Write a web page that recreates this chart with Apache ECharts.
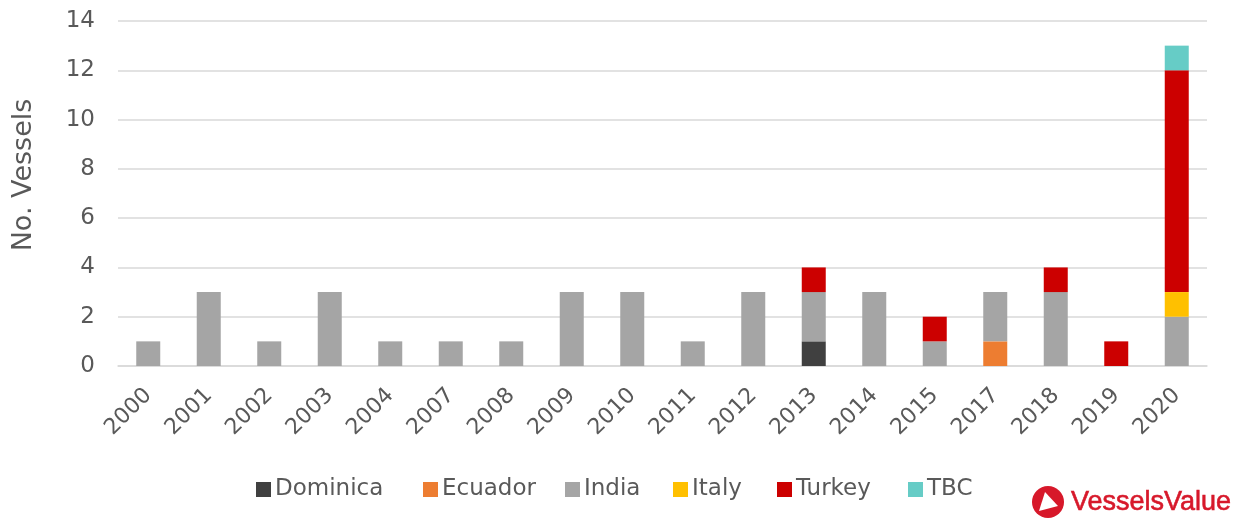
<!DOCTYPE html>
<html><head><meta charset="utf-8">
<script src="https://cdn.jsdelivr.net/npm/echarts@6/dist/echarts.min.js"></script>
<style>html,body{margin:0;padding:0;background:#fff}#c{width:1243px;height:520px}</style>
</head><body><div id="c"></div>
<script>
const categories = ['2000','2001','2002','2003','2004','2007','2008','2009','2010','2011','2012','2013','2014','2015','2017','2018','2019','2020'];
const dominica = [0,0,0,0,0,0,0,0,0,0,0,1,0,0,0,0,0,0];
const ecuador  = [0,0,0,0,0,0,0,0,0,0,0,0,0,0,1,0,0,0];
const india    = [1,3,1,3,1,1,1,3,3,1,3,2,3,1,2,3,0,2];
const italy    = [0,0,0,0,0,0,0,0,0,0,0,0,0,0,0,0,0,1];
const turkey   = [0,0,0,0,0,0,0,0,0,0,0,1,0,1,0,1,1,9];
const tbc      = [0,0,0,0,0,0,0,0,0,0,0,0,0,0,0,0,0,1];
const yTicks = [0,2,4,6,8,10,12,14];
const seriesNames = ['Dominica','Ecuador','India','Italy','Turkey','TBC'];

const FONT = 'DejaVu Sans';
const seriesData = [dominica, ecuador, india, italy, turkey, tbc];
const colors = ['#404040','#ED7D31','#A5A5A5','#FFC000','#CC0000','#66CCC6'];
const legendLeft = [256, 423, 565, 673, 777, 908];

const chart = echarts.init(document.getElementById('c'), null, {renderer:'canvas'});
chart.setOption({
  animation: false,
  textStyle: {fontFamily: FONT},
  grid: {left: 118, right: 36, top: 21, bottom: 154},
  legend: seriesNames.map((n, i) => ({
    data: [n], left: legendLeft[i], top: 478,
    itemWidth: 15, itemHeight: 15, itemGap: 0, icon: 'rect', padding: 0,
    textStyle: {fontFamily: FONT, fontSize: 23, color: '#595959', padding: [0,0,0,-1]}
  })),
  xAxis: {
    type: 'category', data: categories,
    axisLine: {lineStyle: {color: '#D9D9D9', width: 1.5}},
    axisTick: {show: false},
    axisLabel: {rotate: 45, fontFamily: FONT, fontSize: 22, color: '#595959', margin: 26, interval: 0}
  },
  yAxis: {
    type: 'value', min: 0, max: 14, interval: 2,
    axisLabel: {fontFamily: FONT, fontSize: 23, color: '#595959', margin: 23,
      formatter: v => yTicks.includes(v) ? String(v) : ''},
    splitLine: {lineStyle: {color: '#D9D9D9', width: 1.5}},
    axisLine: {show: false}, axisTick: {show: false}
  },
  series: seriesNames.map((name, i) => ({
    name, type: 'bar', stack: 'total', data: seriesData[i],
    barWidth: 24,
    itemStyle: {color: colors[i]},
    emphasis: {disabled: true}
  })),
  graphic: [
    {type: 'text', x: 24, y: 175, rotation: Math.PI/2,
      style: {text: 'No. Vessels', fontFamily: FONT, fontSize: 27, fill: '#595959', textAlign: 'center', textVerticalAlign: 'middle'}},
    {type: 'circle', shape: {cx: 1048, cy: 502, r: 16}, style: {fill: '#D7182A'}},
    {type: 'polygon', shape: {points: [[1039,511],[1045,492],[1058,506]]}, style: {fill: '#fff'}},
    {type: 'text', x: 1071, y: 503,
      style: {text: 'VesselsValue', fontFamily: 'Liberation Sans', fontWeight: 'normal', fontSize: 27, fill: '#D7182A', textVerticalAlign: 'middle', stroke: '#D7182A', lineWidth: 0.6}}
  ]
});
</script></body></html>
